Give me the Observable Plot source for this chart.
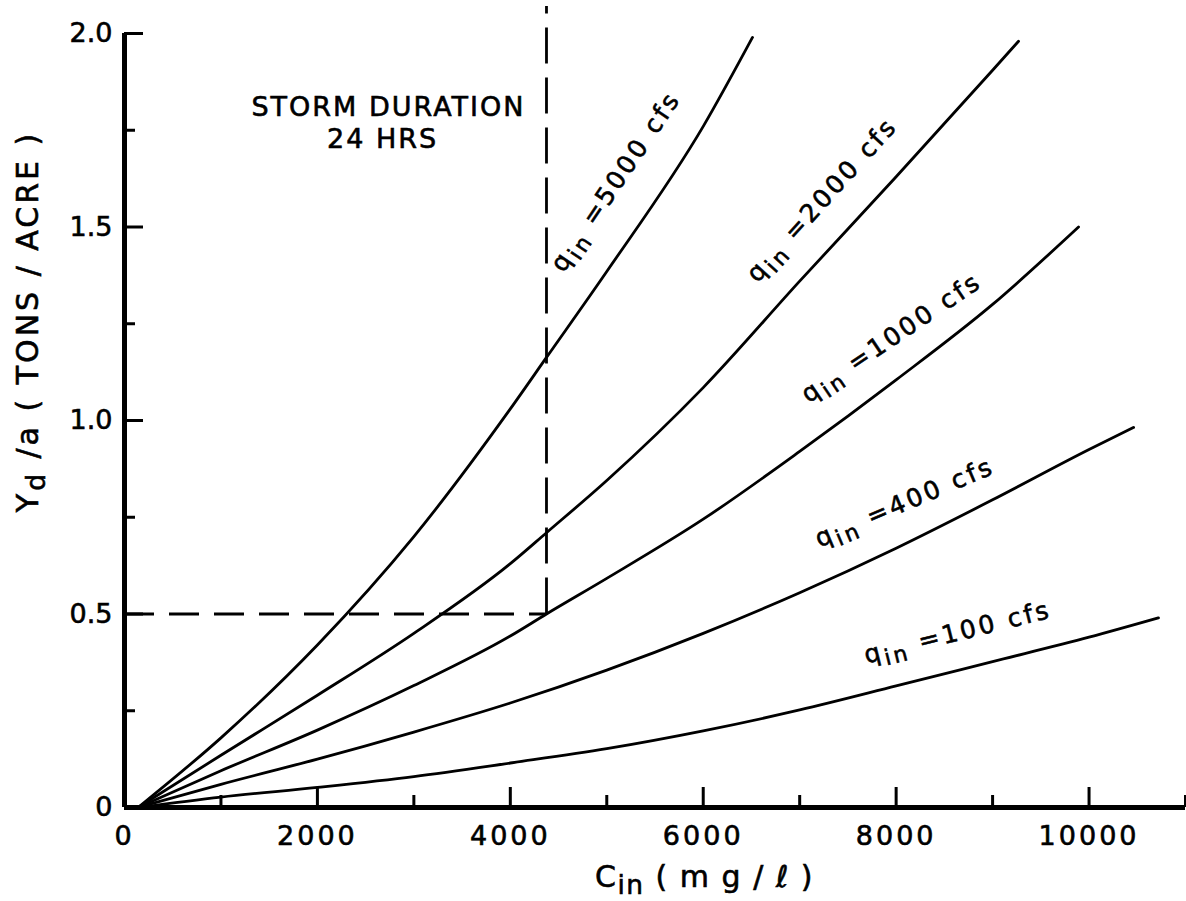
<!DOCTYPE html>
<html>
<head>
<meta charset="utf-8">
<script src="https://cdn.jsdelivr.net/npm/d3@7"></script>
<script src="https://cdn.jsdelivr.net/npm/@observablehq/plot@0.6"></script>
<style>
  html, body { margin: 0; padding: 0; background: #fff; }
  #chart svg { display: block; }
  #chart svg text { stroke: black; stroke-width: 0.6px; }
</style>
</head>
<body>
<div id="chart"></div>
<script>
// ---- tick values ----
const xTickLabels = [0, 2000, 4000, 6000, 8000, 10000];
const xTicksMajor = [2000, 4000, 6000, 8000, 10000];
const xTicksMinor = [1000, 3000, 5000, 7000, 9000, 11000];
const yTickLabels = [0, 0.5, 1.0, 1.5, 2.0];
const yTicksMajor = [0.5, 1.0, 1.5, 2.0];
const yTicksMinor = [0.25, 0.75, 1.25, 1.75];

// ---- series (C_in mg/l, Yd/a tons/acre) ----
const seriesNames = ["5000", "2000", "1000", "400", "100"];
const q5000 = [[140,0],[1000,0.18],[2000,0.42],[3000,0.70],[4000,1.03],[4375,1.163],[5000,1.385],[6000,1.76],[6511,1.99]];
const q2000 = [[140,0],[1000,0.135],[2000,0.29],[3000,0.45],[4000,0.63],[4375,0.71],[5000,0.845],[6000,1.085],[7000,1.36],[8000,1.63],[9000,1.905],[9269,1.98]];
const q1000 = [[140,0],[1000,0.095],[2000,0.20],[3000,0.315],[4000,0.443],[4375,0.50],[5000,0.592],[6000,0.745],[7000,0.92],[8000,1.105],[9000,1.30],[9891,1.50]];
const q400  = [[140,0],[1000,0.06],[2000,0.125],[3000,0.195],[4000,0.27],[5000,0.355],[6000,0.45],[7000,0.555],[8000,0.67],[9000,0.795],[10000,0.925],[10462,0.982]];
const q100  = [[140,0],[1000,0.027],[2000,0.052],[3000,0.08],[4000,0.115],[5000,0.152],[6000,0.198],[7000,0.252],[8000,0.314],[9000,0.377],[10000,0.44],[10720,0.49]];
const seriesPoints = [q5000, q2000, q1000, q400, q100];

// ---- reference (dashed) lines ----
const refC = 4375;     // mg/l
const refY = 0.5;      // tons/acre
const refTop = 2.07;

// ---- annotation anchors (data units) ----
const labelC = [4552, 6563, 7092, 7206, 7693];
const labelY = [1.380, 1.354, 1.044, 0.672, 0.372];
const labelAngle = [-56, -48, -34, -23, -14];
const noteLines = ["STORM DURATION", "24 HRS"];
const noteC = [2737, 2675];
const noteY = [1.788, 1.703];

const rows = seriesPoints.flatMap((pts, i) => pts.map(([x, y]) => ({q: seriesNames[i], x, y})));
const curveLabels = seriesNames.map((q, i) => ({text: `q_in =${q} cfs`, x: labelC[i], y: labelY[i], a: labelAngle[i]}));
const notes = noteLines.map((t, i) => ({text: t, x: noteC[i], y: noteY[i]}));

const W = 1186, H = 901;
const mL = 124, mR = 1, mT = 33, mB = 94;
const plotW = W - mL - mR, plotH = H - mT - mB;

const chart = Plot.plot({
  width: W, height: H,
  marginLeft: mL, marginRight: mR, marginTop: mT, marginBottom: mB,
  style: {fontFamily: "DejaVu Sans", fontSize: "27px", background: "white", color: "black"},
  x: {domain: [0, 11000]},
  y: {domain: [0, 2]},
  marks: [
    Plot.ruleY([refY], {x1: 0, x2: refC, stroke: "black", strokeWidth: 2.8, strokeDasharray: "30,15"}),
    Plot.ruleX([refC], {y1: refY, y2: refTop, stroke: "black", strokeWidth: 2.8, strokeDasharray: "36,14"}),
    Plot.line(rows, {x: "x", y: "y", z: "q", stroke: "black", strokeWidth: 2.8, curve: "monotone-x"}),
    Plot.tickX(xTicksMajor, {x: d => d, insetTop: plotH - 20, stroke: "black", strokeWidth: 3}),
    Plot.tickX(xTicksMinor, {x: d => d, insetTop: plotH - 12, stroke: "black", strokeWidth: 3}),
    Plot.tickY(yTicksMajor, {y: d => d, insetRight: plotW - 19, stroke: "black", strokeWidth: 3}),
    Plot.tickY(yTicksMinor, {y: d => d, insetRight: plotW - 11, stroke: "black", strokeWidth: 3}),
    Plot.ruleY([0], {stroke: "black", strokeWidth: 5}),
    Plot.ruleX([0], {stroke: "black", strokeWidth: 5}),
    Plot.axisX({ticks: xTickLabels, tickSize: 0, tickPadding: 18, tickFormat: d => `${d}`, fontSize: 27, label: null}),
    Plot.axisY({ticks: yTickLabels, tickSize: 0, tickPadding: 12, tickFormat: d => d === 0 ? "0" : d.toFixed(1), fontSize: 27, label: null}),
    Plot.text(curveLabels, {x: "x", y: "y", text: "text", rotate: "a", textAnchor: "start", lineAnchor: "bottom", fontSize: 25, fill: "black"}),
    Plot.text(notes, {x: "x", y: "y", text: "text", textAnchor: "middle", lineAnchor: "bottom", fontSize: 27, fill: "black"}),
    Plot.text(["Y_d /a ( TONS / ACRE )"], {x: 0, y: 1.256, text: d => d, rotate: -90, dx: -87, textAnchor: "middle", lineAnchor: "bottom", fontSize: 30, fill: "black"}),
    Plot.text(["C_in ( m g / ℓ )"], {x: 6013, y: 0, text: d => d, dy: 79, textAnchor: "middle", lineAnchor: "bottom", fontSize: 30, fill: "black"})
  ]
});

// letter spacing and subscripts
chart.querySelectorAll('g[aria-label="x-axis tick label"] text').forEach(t => t.setAttribute("letter-spacing", "3"));
chart.querySelectorAll("text").forEach(t => {
  const s = t.textContent;
  if (/cfs/.test(s)) t.setAttribute("letter-spacing", "3");
  else if (/STORM|HRS/.test(s)) t.setAttribute("letter-spacing", "2");
  else if (/TONS/.test(s)) t.setAttribute("letter-spacing", "3");
  else if (/m g/.test(s)) t.setAttribute("letter-spacing", "1.5");
  const m = s.match(/^(.*?)_(\S+)(.*)$/);
  if (!m) return;
  t.textContent = "";
  t.appendChild(document.createTextNode(m[1]));
  const sub = document.createElementNS("http://www.w3.org/2000/svg", "tspan");
  sub.setAttribute("font-size", "88%");
  sub.setAttribute("dy", "0.3em");
  sub.textContent = m[2];
  t.appendChild(sub);
  const rest = document.createElementNS("http://www.w3.org/2000/svg", "tspan");
  rest.setAttribute("dy", "-0.264em");
  rest.textContent = m[3];
  t.appendChild(rest);
});

document.getElementById("chart").appendChild(chart);
</script>
</body>
</html>
